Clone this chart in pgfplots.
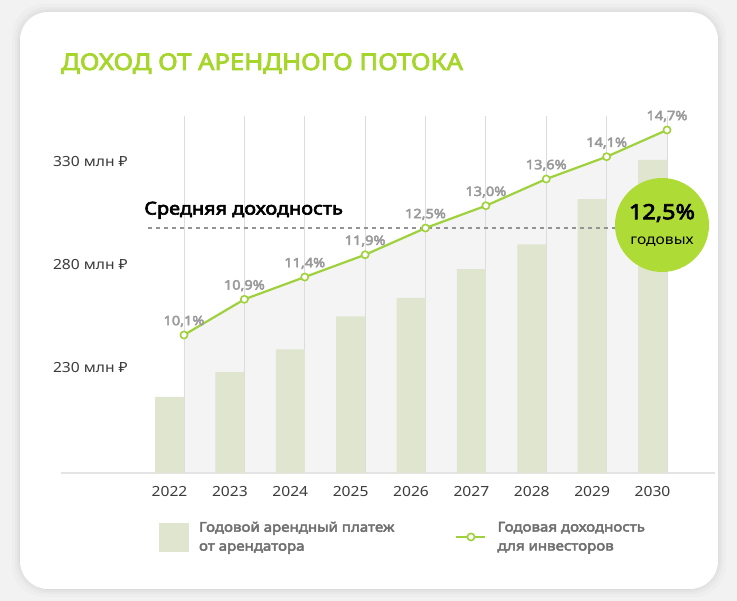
\documentclass[border=0pt]{standalone}
\usepackage{fontspec}
\setmainfont{Noto Sans}[FakeStretch=1.12, BoldFont={Noto Sans}, BoldFeatures={FakeBold=3.5}]
\usepackage{pgfplots}
\pgfplotsset{compat=1.18}

\definecolor{pagebg}{HTML}{F2F2F2}
\definecolor{titlegreen}{HTML}{A6D52C}
\definecolor{barfill}{HTML}{E0E5D0}
\definecolor{areafill}{HTML}{F4F4F4}
\definecolor{gridgray}{HTML}{DCDCDC}
\definecolor{baseline}{HTML}{E4E4E4}
\definecolor{linegreen}{HTML}{9ED13B}
\definecolor{badge}{HTML}{AFDB36}
\definecolor{lblgray}{HTML}{9A9A9A}
\definecolor{leggray}{HTML}{707070}
\definecolor{ticktext}{HTML}{3C3C3C}

% values
\pgfplotstableread{
x    rent
0    216
1    228
2    239
3    255
4    264
5    278
6    290
7    312
8    331
}\renttable

\pgfplotsset{
  frame/.style={
    at={(61bp,128bp)}, anchor=south west,
    scale only axis, width=654bp, height=357bp,
    xmin=-1.797, xmax=9.035,
  },
  pct/.style={frame, ymin=7.003, ymax=15.014, hide axis},
}

\begin{document}
\begin{tikzpicture}[x=1bp, y=1bp]
\useasboundingbox (0,0) rectangle (737,601);
\fill[pagebg] (0,0) rectangle (737,601);
\foreach \s/\o in {8/0.015,5/0.02,3/0.025,1/0.03}
  \fill[black, opacity=\o, rounded corners=32bp] (20-\s,12-\s) rectangle (718+\s,589+\s);
\fill[white, rounded corners=28bp] (20,12) rectangle (718,589);

\node[anchor=base west, inner sep=0, font=\bfseries\fontsize{23}{23}\selectfont, text=titlegreen]
  at (61,531) {ДОХОД ОТ АРЕНДНОГО ПОТОКА};

% shaded area below the yield line
\begin{axis}[pct]
\addplot[draw=none, fill=areafill] coordinates {
  (0.24,10.1) (1.24,10.9) (2.24,11.4) (3.24,11.9) (4.24,12.5)
  (5.24,13.0) (6.24,13.6) (7.24,14.1) (8.24,14.7)} \closedcycle;
\end{axis}

% bars
\begin{axis}[frame, ymin=179, ymax=352.3,
  axis x line=bottom, axis y line=left, axis line style={-},
  y axis line style={draw=none},
  x axis line style={draw=baseline, line width=1.3bp},
  major tick length=0pt,
  xtick={0,...,8},
  xticklabels={2022,2023,2024,2025,2026,2027,2028,2029,2030},
  ytick={230,280,330},
  yticklabels={230 млн ₽,280 млн ₽,330 млн ₽},
  tick label style={font=\fontsize{14}{14}\selectfont, text=ticktext, inner sep=0pt},
  yticklabel style={anchor=east, xshift=67bp},
  xticklabel style={anchor=north, yshift=-13bp},
  extra x ticks={0.24,1.24,2.24,3.24,4.24,5.24,6.24,7.24,8.24},
  extra x tick labels={},
  extra x tick style={grid=major, major grid style={gridgray, line width=0.9bp}},
  ybar, bar width=29bp,
]
\addplot[fill=barfill, draw=none] table[x=x, y=rent] {\renttable};
\end{axis}

% yield line
\begin{axis}[pct,
  legend style={at={(0.149,-0.1305)}, anchor=north west, draw=none, fill=none,
    inner sep=0pt, legend columns=2,
    font=\bfseries\fontsize{13.5}{19}\selectfont, text=leggray,
    nodes={align=left},
    /tikz/every odd column/.append style={column sep=9bp},
    /tikz/every even column/.append style={column sep=59bp}},
  legend cell align=left,
]
\addplot[black!42, line width=1.3bp, dash pattern=on 4.5bp off 3.5bp, forget plot]
  coordinates {(-0.36,12.5) (7.7,12.5)};
\addlegendimage{legend image code/.code={\fill[barfill] (0bp,-14bp) rectangle (29bp,14bp);}}
\addlegendentry{Годовой арендный платеж\\от арендатора}
\addplot[linegreen, line width=2.2bp, mark=*, mark size=3.6bp,
  mark options={fill=white, draw=linegreen, line width=1.6bp},
  nodes near coords, point meta=explicit symbolic,
  nodes near coords style={font=\bfseries\fontsize{13}{13}\selectfont, text=lblgray, anchor=south, yshift=4bp},
  legend image code/.code={\draw[linegreen, line width=2.2bp] (0bp,0bp) -- (29bp,0bp);
    \draw[linegreen, fill=white, line width=1.6bp] (14.5bp,0bp) circle (3.6bp);}]
coordinates {
  (0.24,10.1) [10,1\%]
  (1.24,10.9) [10,9\%]
  (2.24,11.4) [11,4\%]
  (3.24,11.9) [11,9\%]
  (4.24,12.5) [12,5\%]
  (5.24,13.0) [13,0\%]
  (6.24,13.6) [13,6\%]
  (7.24,14.1) [14,1\%]
  (8.24,14.7) [14,7\%]
};
\addlegendentry{Годовая доходность\\для инвесторов}
\node[anchor=south west, inner sep=0pt, font=\bfseries\fontsize{17.8}{17.8}\selectfont, text=black]
  at (axis cs:-0.42,12.5) [yshift=9bp] {Средняя доходность};
\end{axis}

\fill[badge] (662,376) circle (47);
\node[font=\bfseries\fontsize{21}{21}\selectfont] at (662,388) {12,5\%};
\node[font=\fontsize{14}{14}\selectfont] at (662,359) {годовых};
\end{tikzpicture}
\end{document}
